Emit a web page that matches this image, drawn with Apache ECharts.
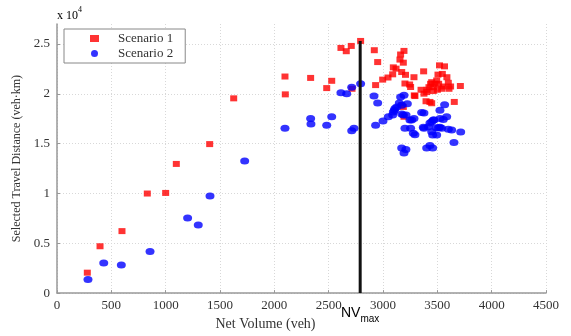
<!DOCTYPE html>
<html style="height: 100%">
<head>
  <meta charset="utf-8">
  <title>Selected Travel Distance vs Net Volume</title>
  <script src="https://cdn.jsdelivr.net/npm/echarts@6/dist/echarts.min.js"></script>
</head>
<body style="margin: 0; height: 100%; background: #fff">
  <div id="main" style="width: 571px; height: 336px"></div>

  <script>
    // Scenario 1 (red squares): [net volume, travel distance]
    const scenario1 = [
      [279, 2050], [396, 4700], [598, 6220], [831, 9990], [1000, 10050], [1098, 12960],
      [1405, 14950], [1626, 19540], [2098, 21730], [2101, 19940],
      [2334, 21590], [2528, 21300], [2482, 20570], [2613, 24600], [2662, 24270],
      [2708, 24800], [2794, 25300], [2715, 20500],
      [2920, 24370], [2951, 23180], [2932, 20870], [2997, 21420], [3046, 21630],
      [3089, 21950], [3095, 22650], [3120, 22520], [3162, 23940], [3193, 24300],
      [3156, 23430], [3187, 23120], [3172, 22180], [3207, 21900], [3202, 21030],
      [3245, 20930], [3254, 20680], [3285, 21660], [3294, 19770], [3374, 22250],
      [3377, 20010], [3396, 19250], [3448, 19050], [3405, 20400], [3423, 20660],
      [3448, 21160], [3463, 20270], [3478, 21000], [3506, 21920], [3520, 22850],
      [3566, 22750], [3546, 21990], [3588, 21660], [3512, 21000], [3540, 20500],
      [3607, 20500], [3622, 20730], [3712, 20780], [3656, 19180], [3187, 18680],
      [3193, 17690], [3350, 20400], [3402, 20170], [3288, 19840], [3494, 21330],
      [3438, 21000], [3463, 20660], [3555, 20730], [3601, 21100], [3500, 20400],
      [3172, 18850], [3432, 19180]
    ];

    // Scenario 2 (blue circles)
    const scenario2 = [
      [285, 1360], [430, 3010], [592, 2810], [856, 4170], [1202, 7540], [1300, 6840],
      [1408, 9750], [1727, 13260], [2098, 16530],
      [2334, 17530], [2337, 16960], [2528, 17690], [2482, 16830], [2712, 16300],
      [2733, 16530], [2613, 20110], [2666, 20010], [2712, 20660], [2794, 21000],
      [2917, 19770], [2951, 19080], [2932, 16830], [3000, 17260], [3049, 17690],
      [3089, 17860], [3104, 18350], [3126, 18680], [3162, 19670], [3193, 19840],
      [3172, 18850], [3224, 19010], [3187, 17860], [3212, 17860], [3248, 17360],
      [3285, 17530], [3202, 16530], [3254, 16530], [3294, 15900], [3172, 14550],
      [3193, 14060], [3211, 14400], [3377, 18080], [3377, 16530], [3417, 16700],
      [3448, 17190], [3469, 17360], [3524, 18350], [3567, 18910], [3555, 17430],
      [3586, 17690], [3524, 16630], [3601, 16430], [3632, 16370], [3715, 16170],
      [3653, 15110], [3457, 15870], [3494, 15870], [3402, 14550], [3432, 14810],
      [3457, 14550], [3095, 18180], [3110, 18520], [3150, 19080], [3172, 17960],
      [3264, 17360], [3279, 16040], [3356, 18130], [3432, 17060], [3490, 16600],
      [3512, 16600], [3371, 16630], [3448, 16200], [3540, 16530], [3524, 17530],
      [3463, 17360]
    ];

    // NV_max marker line
    const nvMax = [[2790, 0], [2790, 25300]];

    const chart = echarts.init(document.getElementById('main'));
    const serif = 'Liberation Serif';
    const gridLine = { show: true, lineStyle: { color: '#d8d8d8', type: [1, 2], width: 1 } };

    chart.setOption({
      animation: false,
      backgroundColor: '#fff',
      grid: { left: 57, right: 25, top: 24, bottom: 41 },
      legend: {
        left: 64,
        top: 29,
        orient: 'vertical',
        data: ['Scenario 1', 'Scenario 2'],
        borderColor: '#888',
        borderWidth: 1,
        backgroundColor: '#fff',
        padding: [3, 12, 3, 26],
        itemGap: 2,
        itemWidth: 9,
        itemHeight: 7,
        textStyle: { fontFamily: serif, fontSize: 13, color: '#333', lineHeight: 13, padding: [0, 0, 0, 14] }
      },
      xAxis: {
        type: 'value',
        min: 0,
        max: 4500,
        interval: 500,
        name: 'Net Volume (veh)',
        nameLocation: 'middle',
        nameGap: 20,
        nameTextStyle: { fontFamily: serif, fontSize: 14, color: '#333', padding: [0, 72, 0, 0] },
        axisLine: { show: true, lineStyle: { color: '#999', width: 1.5 } },
        axisTick: { show: true, inside: true, length: 3, lineStyle: { color: '#999' } },
        axisLabel: { fontFamily: serif, fontSize: 13, color: '#333', margin: 6, formatter: v => String(v) },
        splitLine: gridLine
      },
      yAxis: {
        type: 'value',
        min: 0,
        max: 27000,
        interval: 5000,
        name: 'Selected Travel Distance (veh·km)',
        nameLocation: 'middle',
        nameGap: 33,
        nameTextStyle: { fontFamily: serif, fontSize: 12, color: '#333' },
        axisLine: { show: true, lineStyle: { color: '#999', width: 1.5 } },
        axisTick: { show: true, inside: true, length: 3, lineStyle: { color: '#999' } },
        axisLabel: {
          fontFamily: serif, fontSize: 13, color: '#333', margin: 7,
          showMaxLabel: false,
          formatter: v => (v % 5000 === 0 ? String(v / 10000) : '')
        },
        splitLine: Object.assign({ showMaxLine: false }, gridLine)
      },
      graphic: [
        {
          type: 'text',
          left: 57,
          top: 6,
          style: {
            text: '{a|x 10}{s|4}',
            rich: {
              a: { fontFamily: serif, fontSize: 12, color: '#333', padding: [4, 0, 0, 0] },
              s: { fontFamily: serif, fontSize: 8, color: '#333', verticalAlign: 'top' }
            }
          }
        },
        {
          type: 'text',
          left: 341,
          top: 306,
          style: {
            text: '{n|NV}{m|max}',
            rich: {
              n: { fontFamily: 'Liberation Sans', fontSize: 14, color: '#111' },
              m: { fontFamily: 'Liberation Sans', fontSize: 10, color: '#111', padding: [12, 0, 0, 0] }
            }
          }
        }
      ],
      series: [
        {
          name: 'Scenario 1',
          type: 'scatter',
          symbol: 'rect',
          symbolSize: [7, 6],
          itemStyle: { color: '#ff0000' },
          data: scenario1,
          z: 2
        },
        {
          name: 'Scenario 2',
          type: 'scatter',
          symbol: 'circle',
          symbolSize: [9, 7],
          itemStyle: { color: '#0000ff' },
          data: scenario2,
          z: 3
        },
        {
          name: 'NVmax',
          type: 'line',
          data: nvMax,
          symbol: 'none',
          lineStyle: { color: '#111', width: 3 },
          z: 4
        }
      ]
    });
  </script>
</body>
</html>
